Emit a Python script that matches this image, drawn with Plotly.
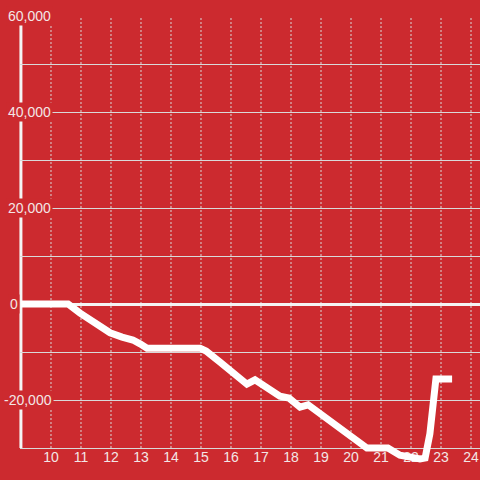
import plotly.graph_objects as go

# Data (hour of day vs cumulative value)
hours = [9.0, 10.57, 10.97, 11.47, 11.97, 12.37, 12.73, 12.97, 13.2, 14.97, 15.17, 15.63,
         16.3, 16.53, 16.8, 17.13, 17.63, 17.93, 18.3, 18.57, 18.97, 19.63, 20.13, 20.53,
         21.23, 21.63, 22.3, 22.47, 22.63, 22.73, 22.83, 23.37]
values = [0, 0, -1900, -4000, -6000, -6900, -7500, -8300, -9200, -9200, -9800, -12100,
          -15200, -16700, -15800, -17100, -19200, -19600, -21500, -21000, -22900, -25800,
          -28100, -30000, -30000, -31500, -32300, -32100, -27000, -20000, -15600, -15600]

x_ticks = [10, 11, 12, 13, 14, 15, 16, 17, 18, 19, 20, 21, 22, 23, 24]
y_grid = [-30000, -20000, -10000, 0, 10000, 20000, 30000, 40000, 50000, 60000]
y_label_vals = [60000, 40000, 20000, 0, -20000]
y_label_text = ["60,000", "40,000", "20,000", "0", "-20,000"]

BG = "#cc2a2f"
GRID = "#d9d9d9"
TXT = "#f3e6e6"
W, H, ML, MT = 480, 480, 20, 16
label_left_px = [6, 6, 6, 8, 2]  # styling: left edge of each y label in pixels

fig = go.Figure()
fig.add_trace(go.Scatter(x=hours, y=values, mode="lines",
                         line=dict(color="white", width=7), hoverinfo="skip"))

shapes = []
for xv in x_ticks:
    shapes.append(dict(type="line", xref="x", yref="y", x0=xv, x1=xv, y0=-30000, y1=60000,
                       line=dict(color=GRID, width=1, dash="2px,2px"), layer="below"))
# y axis line
shapes.append(dict(type="line", xref="paper", yref="y", x0=0.002, x1=0.002, y0=-30000, y1=58500,
                   line=dict(color="#f4f4f4", width=3), layer="below"))

annotations = []
for v, t, px in zip(y_label_vals, y_label_text, label_left_px):
    annotations.append(dict(x=(px - ML) / (W - ML), xref="paper", y=v, yref="y", text=t,
                            showarrow=False, xanchor="left", yanchor="middle", bgcolor=BG,
                            font=dict(color=TXT, size=14, family="Liberation Sans, Arial"),
                            borderpad=1))

fig.update_layout(
    width=W, height=H,
    margin=dict(l=ML, r=0, t=MT, b=0, autoexpand=False),
    paper_bgcolor=BG, plot_bgcolor=BG,
    showlegend=False,
    shapes=shapes,
    annotations=annotations,
    font=dict(family="Liberation Sans, Arial", size=14, color=TXT),
    xaxis=dict(range=[8.967, 24.3], tickvals=x_ticks, ticktext=[str(v) for v in x_ticks],
               showgrid=False, zeroline=False, showline=False, ticks="",
               ticklabelposition="inside", ticklabelstandoff=12, layer="below traces",
               automargin=False, tickfont=dict(color=TXT, size=14)),
    yaxis=dict(range=[-36667, 60000], tickvals=y_grid, showticklabels=False,
               showgrid=True, gridcolor=GRID, gridwidth=1,
               zeroline=True, zerolinecolor="#f4f4f4", zerolinewidth=3,
               showline=False, ticks="", layer="below traces", automargin=False),
)

fig.write_html("out.html", config={"displayModeBar": False},
               post_script="document.body.style.margin='0px';")
